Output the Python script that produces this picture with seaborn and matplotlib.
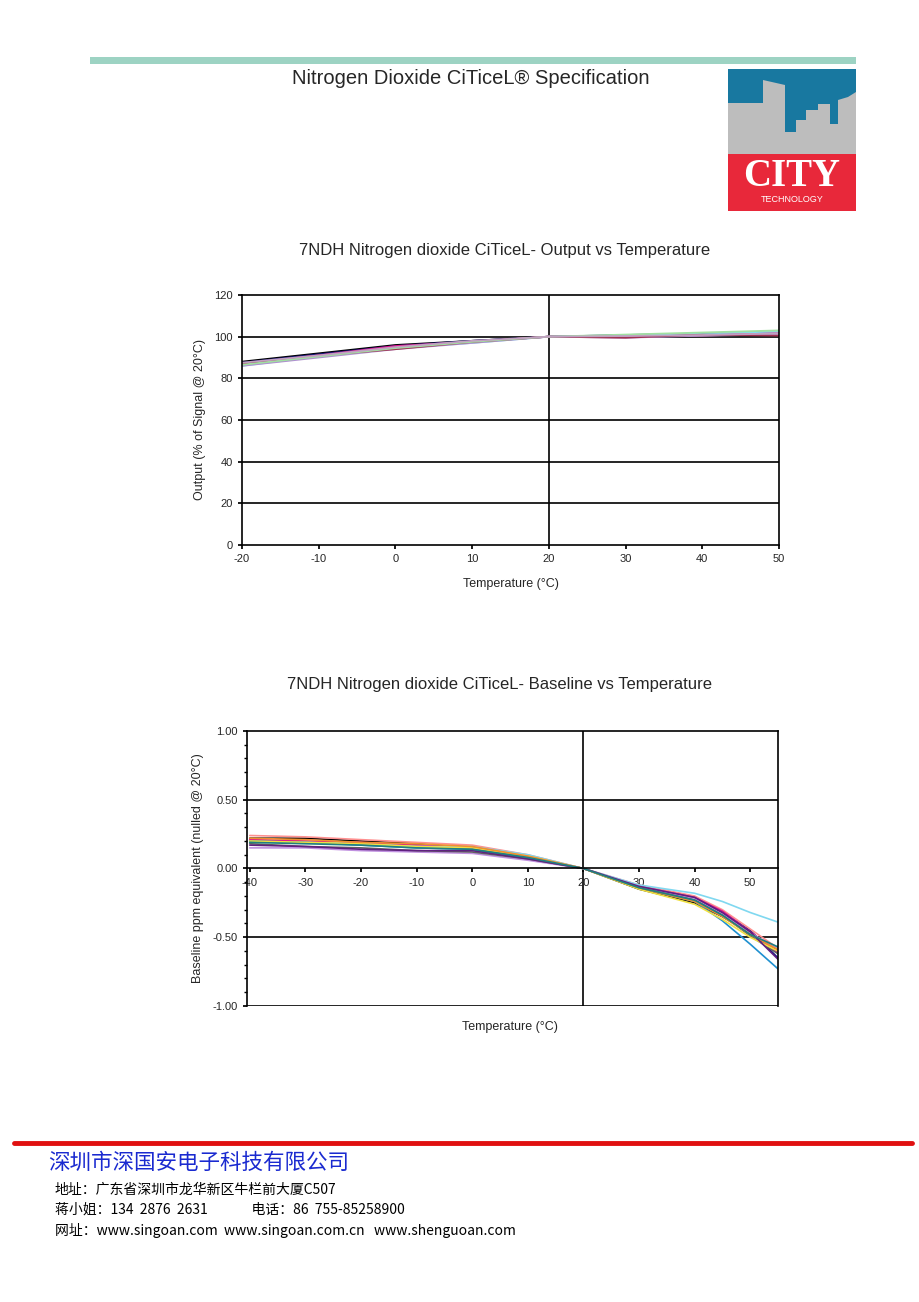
import numpy as np
import pandas as pd
import matplotlib
matplotlib.use("Agg")
import matplotlib.pyplot as plt
import seaborn as sns
from matplotlib.patches import Rectangle, Polygon
from matplotlib.lines import Line2D
from matplotlib.ticker import MultipleLocator

# datos (aprox.)
temps_out = [-20, -10, 0, 10, 20, 30, 40, 50]
output_series = {
    "s1": [88.0, 92.0, 96.0, 98.0, 100, 100.5, 101.0, 101.0],
    "s2": [87.5, 91.5, 95.5, 98.0, 100, 100.8, 101.5, 102.5],
    "s3": [87.0, 91.0, 95.5, 97.5, 100, 100.3, 101.0, 102.0],
    "s4": [86.5, 90.5, 94.5, 97.5, 100, 100.0, 100.5, 101.5],
    "s5": [86.0, 90.5, 94.5, 97.0, 100, 100.5, 101.5, 102.5],
    "s6": [86.0, 90.0, 94.0, 97.0, 100, 99.5, 100.5, 101.0],
    "s7": [87.0, 91.0, 94.0, 97.5, 100, 99.5, 101.0, 100.5],
    "s8": [86.5, 90.5, 94.5, 97.5, 100, 101.0, 102.0, 103.0],
    "s9": [87.5, 91.0, 95.0, 98.0, 100, 100.3, 100.8, 101.5],
}

temps_base = [-40, -30, -20, -10, 0, 10, 20, 30, 40, 45, 50, 55]
baseline_series = {
    "b1": [0.22, 0.22, 0.20, 0.18, 0.14, 0.08, 0, -0.15, -0.25, -0.35, -0.47, -0.60],
    "b2": [0.20, 0.19, 0.18, 0.17, 0.15, 0.09, 0, -0.13, -0.22, -0.32, -0.45, -0.65],
    "b3": [0.24, 0.23, 0.21, 0.19, 0.17, 0.10, 0, -0.12, -0.20, -0.30, -0.44, -0.58],
    "b4": [0.21, 0.20, 0.19, 0.17, 0.15, 0.09, 0, -0.13, -0.21, -0.31, -0.46, -0.61],
    "b5": [0.19, 0.19, 0.18, 0.16, 0.16, 0.10, 0, -0.12, -0.18, -0.24, -0.32, -0.39],
    "b6": [0.20, 0.19, 0.17, 0.15, 0.14, 0.08, 0, -0.14, -0.24, -0.38, -0.55, -0.73],
    "b7": [0.15, 0.15, 0.13, 0.12, 0.11, 0.06, 0, -0.13, -0.22, -0.33, -0.47, -0.58],
    "b8": [0.18, 0.16, 0.15, 0.13, 0.12, 0.07, 0, -0.14, -0.23, -0.34, -0.49, -0.62],
    "b9": [0.20, 0.19, 0.18, 0.16, 0.15, 0.09, 0, -0.15, -0.26, -0.37, -0.50, -0.60],
    "b10": [0.22, 0.21, 0.19, 0.18, 0.16, 0.09, 0, -0.14, -0.24, -0.35, -0.48, -0.59],
    "b11": [0.17, 0.16, 0.14, 0.13, 0.13, 0.07, 0, -0.13, -0.21, -0.32, -0.46, -0.66],
    "b12": [0.19, 0.18, 0.17, 0.15, 0.14, 0.08, 0, -0.14, -0.23, -0.34, -0.48, -0.57],
}

out_colors = ["#000000", "#1a1a80", "#e0158c", "#ff80c0", "#80e0f0",
              "#b090d0", "#a03050", "#a0e0a0", "#c0a0c0"]
base_colors = ["#000000", "#1a1a80", "#ff9090", "#e0158c", "#80d8f0", "#1e90d0",
               "#c090e0", "#606060", "#f0e040", "#f09030", "#602080", "#208080"]

footer_lines = [
    "地址：广东省深圳市龙华新区牛栏前大厦C507",
    "蒋小姐：134  2876  2631              电话：86  755-85258900",
    "网址：www.singoan.com  www.singoan.com.cn   www.shenguoan.com",
]

sns.set_theme(style="white")
plt.rcParams['font.family'] = ['Liberation Sans', 'Noto Sans CJK SC', 'DejaVu Sans']
plt.rcParams['axes.unicode_minus'] = False

df_out = pd.DataFrame([
    {"temp": t, "valor": v, "serie": k}
    for k, vals in output_series.items() for t, v in zip(temps_out, vals)
])
df_base = pd.DataFrame([
    {"temp": t, "valor": v, "serie": k}
    for k, vals in baseline_series.items() for t, v in zip(temps_base, vals)
])

fig = plt.figure(figsize=(9.2, 13.02), dpi=100)
W, H = 920, 1302

def fx(px):
    return px / W

def fy(py):
    return 1 - py / H

# cabecera
fig.add_artist(Rectangle((fx(90), fy(64)), fx(856) - fx(90), 7 / H,
                         transform=fig.transFigure, color="#9dd3c3", lw=0))
fig.text(fx(471), fy(79), "Nitrogen Dioxide CiTiceL® Specification",
         ha="center", va="center", fontsize=14.5)

# logo
lg = fig.add_axes([fx(728), fy(211), 128 / W, 142 / H])
lg.set_xlim(0, 128)
lg.set_ylim(0, 142)
lg.axis("off")
lg.add_patch(Rectangle((0, 0), 128, 142, color="#1878a0", lw=0))
sky = [(728, 154), (728, 103), (763, 103), (763, 80), (785, 85), (785, 132),
       (796, 132), (796, 120), (806, 120), (806, 110), (818, 110), (818, 104),
       (830, 104), (830, 124), (838, 124), (838, 100), (848, 97), (856, 92), (856, 154)]
lg.add_patch(Polygon([(x - 728, 211 - y) for x, y in sky], color="#bdbdbd", lw=0))
lg.add_patch(Rectangle((0, 0), 128, 57, color="#e8283a", lw=0))
lg.text(64, 34, "CITY", ha="center", va="center", color="white", fontsize=28,
        fontweight="bold", family="Liberation Serif")
lg.text(64, 11, "TECHNOLOGY", ha="center", va="center", color="white", fontsize=6.5)

# grafico 1: salida vs temperatura
ax1 = fig.add_axes([fx(242), fy(545), fx(779) - fx(242), (545 - 295) / H])
sns.lineplot(data=df_out, x="temp", y="valor", hue="serie", palette=out_colors,
             legend=False, ax=ax1, linewidth=1.3)
ax1.set_xlim(-20, 50)
ax1.set_ylim(0, 120)
ax1.set_xticks(range(-20, 51, 10))
ax1.set_yticks(range(0, 121, 20))
for v in range(20, 101, 20):
    ax1.axhline(v, color="black", lw=1.2, zorder=0)
ax1.axvline(20, color="black", lw=1.2, zorder=0)
for s in ax1.spines.values():
    s.set_color("black")
    s.set_linewidth(1.2)
ax1.tick_params(axis="both", labelsize=8, length=3, direction="out",
                left=True, bottom=True, color="black")
ax1.set_xlabel("Temperature (°C)", fontsize=9, labelpad=10)
ax1.set_ylabel("Output (% of Signal @ 20°C)", fontsize=9, labelpad=6)
fig.text(fx(505), fy(250), "7NDH Nitrogen dioxide CiTiceL- Output vs Temperature",
         ha="center", va="center", fontsize=12)

# grafico 2: linea base vs temperatura
ax2 = fig.add_axes([fx(247), fy(1006), fx(778) - fx(247), (1006 - 731) / H])
sns.lineplot(data=df_base, x="temp", y="valor", hue="serie", palette=base_colors,
             legend=False, ax=ax2, linewidth=1.2)
ax2.set_xlim(-40.5, 55)
ax2.set_ylim(-1, 1)
ax2.set_xticks(range(-40, 51, 10))
ax2.set_yticks([1, 0.5, 0, -0.5, -1])
ax2.set_yticklabels(["1.00", "0.50", "0.00", "-0.50", "-1.00"])
ax2.yaxis.set_minor_locator(MultipleLocator(0.1))
ax2.spines["bottom"].set_position(("data", 0))
ax2.axhline(-1, color="black", lw=1.2, zorder=0)
for v in [0.5, -0.5]:
    ax2.axhline(v, color="black", lw=1.2, zorder=0)
ax2.axvline(20, color="black", lw=1.2, zorder=0)
for s in ax2.spines.values():
    s.set_color("black")
    s.set_linewidth(1.2)
ax2.tick_params(axis="both", labelsize=8, length=3, direction="out",
                left=True, bottom=True, color="black")
ax2.tick_params(axis="y", which="minor", length=2, left=True, color="black")
ax2.set_xlabel("")
ax2.set_ylabel("Baseline ppm equivalent (nulled @ 20°C)", fontsize=9, labelpad=6)
fig.text(fx(510), fy(1027), "Temperature (°C)", ha="center", va="center", fontsize=9)
fig.text(fx(500), fy(685), "7NDH Nitrogen dioxide CiTiceL- Baseline vs Temperature",
         ha="center", va="center", fontsize=12)

# pie de pagina
fig.add_artist(Line2D([fx(14), fx(912)], [fy(1143), fy(1143)], transform=fig.transFigure,
                      color="#e01010", lw=3.5))
fig.text(fx(48), fy(1163), "深圳市深国安电子科技有限公司", ha="left", va="center",
         fontsize=15.5, color="#1a2ad0", family=["Noto Sans CJK SC", "DejaVu Sans"])
for i, txt in enumerate(footer_lines):
    fig.text(fx(55), fy(1190 + i * 20), txt, ha="left", va="center", fontsize=10,
             color="black", family=["Noto Sans CJK SC", "DejaVu Sans"])

fig.savefig("out.png", dpi=100, facecolor="white")
